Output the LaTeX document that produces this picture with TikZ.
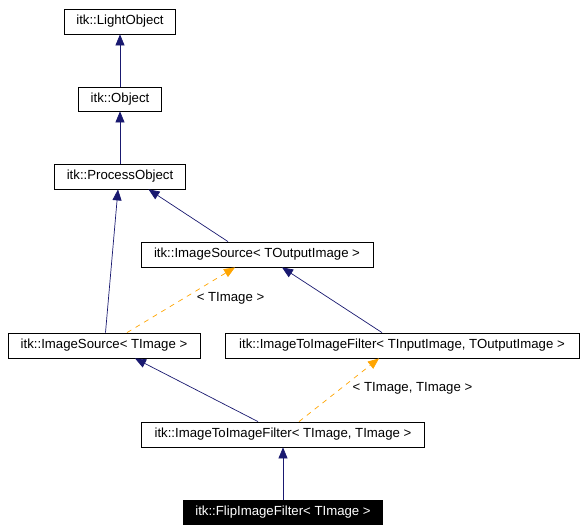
\documentclass[tikz,border=0pt]{standalone}
\usepackage{fontspec}
\setmainfont{Liberation Sans}
\usetikzlibrary{arrows.meta}
\definecolor{edgeblue}{HTML}{191970}
\definecolor{edgeorange}{HTML}{FFA500}
\tikzset{
  cls/.style={draw=black, line width=0.8pt, fill=white, inner sep=0pt, font=\fontsize{13.2}{15}\selectfont, anchor=center},
  clsdark/.style={cls, fill=black, text=white},
  inherit/.style={draw=edgeblue, line width=0.7pt, -{Triangle[length=11pt,width=9pt]}},
  templ/.style={draw=edgeorange, line width=0.7pt, dash pattern=on 5pt off 5pt, -{Triangle[length=11pt,width=9pt]}},
  lbl/.style={font=\fontsize{13.2}{15}\selectfont, inner sep=0pt}
}
\begin{document}
\begin{tikzpicture}[x=1pt,y=-1pt]
\useasboundingbox[fill=white] (0,0) rectangle (583,532);
\node[cls, minimum width=111pt, minimum height=25pt] (LO) at (120,21.5) {itk::LightObject};
\node[cls, minimum width=83pt, minimum height=24pt] (OB) at (120,99) {itk::Object};
\node[cls, minimum width=131pt, minimum height=25pt] (PO) at (120,176.5) {itk::ProcessObject};
\node[cls, minimum width=232pt, minimum height=25pt] (ISO) at (257,254.5) {itk::ImageSource< TOutputImage >};
\node[cls, minimum width=192pt, minimum height=25pt] (ISI) at (104,345.5) {itk::ImageSource< TImage >};
\node[cls, minimum width=354pt, minimum height=25pt] (ITIO) at (402,345.5) {itk::ImageToImageFilter< TInputImage, TOutputImage >};
\node[cls, minimum width=283pt, minimum height=25pt] (ITII) at (283,434.5) {itk::ImageToImageFilter< TImage, TImage >};
\node[clsdark, minimum width=199pt, minimum height=24pt] (FL) at (283,512.5) {itk::FlipImageFilter< TImage >};

\draw[inherit] (OB.north) -- (LO.south);
\draw[inherit] (PO.north) -- (OB.south);
\draw[inherit] ([xshift=-29pt]ISO.north) -- ([xshift=28.5pt]PO.south);
\draw[inherit] ([xshift=1.5pt]ISI.north) -- ([xshift=-2pt]PO.south);
\draw[templ] ([xshift=23pt]ISI.north) -- ([xshift=-22pt]ISO.south);
\draw[inherit] ([xshift=-20pt]ITIO.north) -- ([xshift=25pt]ISO.south);
\draw[inherit] ([xshift=-25pt]ITII.north) -- ([xshift=31pt]ISI.south);
\draw[templ] ([xshift=16pt]ITII.north) -- ([xshift=-23pt]ITIO.south);
\draw[inherit] (FL.north) -- (ITII.south);

\node[lbl] (L1) at (230.5,298) {< TImage >};
\node[lbl] (L2) at (412.5,388) {< TImage, TImage >};
\end{tikzpicture}
\end{document}
